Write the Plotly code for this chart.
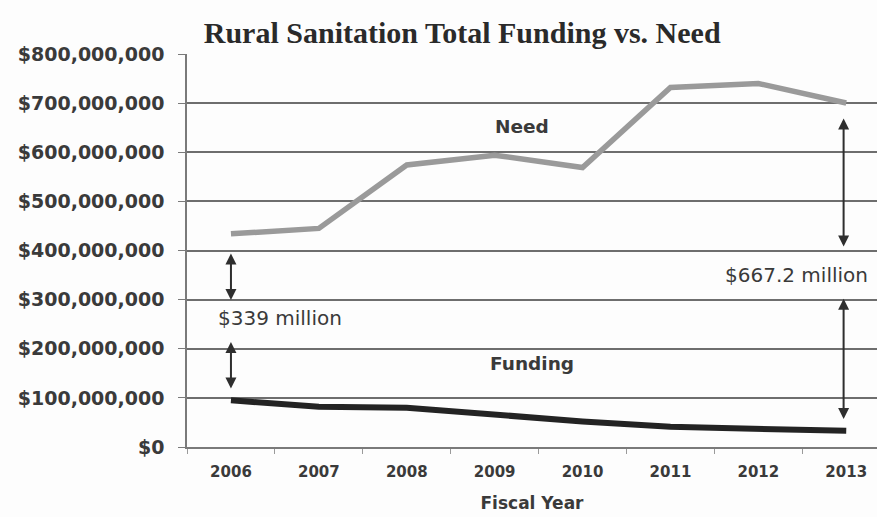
import plotly.graph_objects as go

# Fiscal years and annual totals (US dollars)
years = ["2006", "2007", "2008", "2009", "2010", "2011", "2012", "2013"]
need = [434e6, 445e6, 574e6, 594e6, 569e6, 732e6, 740e6, 700.2e6]
funding = [95e6, 82e6, 80e6, 65e6, 52e6, 41e6, 36e6, 33e6]

# Axis ticks
y_ticks = [0, 100e6, 200e6, 300e6, 400e6, 500e6, 600e6, 700e6, 800e6]
y_tick_text = ["$0", "$100,000,000", "$200,000,000", "$300,000,000", "$400,000,000",
               "$500,000,000", "$600,000,000", "$700,000,000", "$800,000,000"]

# Gaps between need and funding in the first and last year
gap_2006 = need[0] - funding[0]
gap_2013 = need[-1] - funding[-1]

LABEL_FONT = "DejaVu Sans"
INK = "#3a3a3a"

fig = go.Figure()

fig.add_trace(go.Scatter(
    x=years, y=need, mode="lines", name="Need",
    line=dict(color="#9a9a9a", width=5.5),
))
fig.add_trace(go.Scatter(
    x=years, y=funding, mode="lines", name="Funding",
    line=dict(color="#232323", width=6),
))

def double_arrow(x, y0, y1):
    fig.add_annotation(
        x=x, y=y1, ax=x, ay=y0, xref="x", yref="y", axref="x", ayref="y",
        showarrow=True, arrowhead=2, startarrowhead=2, arrowside="end+start",
        arrowsize=1.1, arrowwidth=2, arrowcolor="#2e2e2e", text="",
    )

# 2006 gap arrows and label
double_arrow(0, 397e6, 299e6)
double_arrow(0, 217e6, 119e6)
fig.add_annotation(
    x=-0.17, y=263e6, xref="x", yref="y", xanchor="left", yanchor="middle",
    text=f"${gap_2006 / 1e6:.0f} million", showarrow=False,
    font=dict(family=LABEL_FONT, size=20, color=INK),
)

# 2013 gap arrows and label
double_arrow(6.97, 672e6, 408e6)
double_arrow(6.97, 305e6, 57e6)
fig.add_annotation(
    x=5.6, y=350e6, xref="x", yref="y", xanchor="left", yanchor="middle",
    text=f"${gap_2013 / 1e6:.1f} million", showarrow=False,
    font=dict(family=LABEL_FONT, size=20, color=INK),
)

# Series labels
fig.add_annotation(
    x=3.31, y=652e6, xref="x", yref="y", text="<b>Need</b>", showarrow=False,
    font=dict(family=LABEL_FONT, size=18.5, color=INK),
)
fig.add_annotation(
    x=3.43, y=171e6, xref="x", yref="y", text="<b>Funding</b>", showarrow=False,
    font=dict(family=LABEL_FONT, size=18.5, color=INK),
)

fig.update_layout(
    width=877, height=517,
    margin=dict(l=187, r=0, t=54, b=70),
    paper_bgcolor="#fdfdfd", plot_bgcolor="#fdfdfd",
    showlegend=False,
    title=dict(
        text="<b>Rural Sanitation Total Funding vs. Need</b>",
        x=0.527, xanchor="center", y=0.937, yanchor="middle",
        font=dict(family="Liberation Serif", size=30, color="#2a2a2a"),
    ),
    xaxis=dict(
        type="category", range=[-0.5, 7.35],
        showgrid=False, showline=True, linecolor="#7a7a7a", linewidth=1.5,
        ticks="outside", tickson="boundaries", ticklen=5, tickcolor="#9a9a9a",
        ticklabelstandoff=10,
        tickfont=dict(family=LABEL_FONT, size=15, color=INK, weight="bold"),
        title=dict(text="<b>Fiscal Year</b>", standoff=17,
                   font=dict(family=LABEL_FONT, size=17, color=INK)),
        fixedrange=True,
    ),
    yaxis=dict(
        range=[0, 800e6], tickvals=y_ticks, ticktext=y_tick_text,
        showgrid=True, gridcolor="#6e6e6e", gridwidth=1.5,
        showline=True, linecolor="#7a7a7a", linewidth=1.5,
        ticks="outside", ticklen=7, tickcolor="#7a7a7a",
        ticklabelstandoff=10,
        tickfont=dict(family=LABEL_FONT, size=19, color=INK, weight="bold"),
        zeroline=False, fixedrange=True,
    ),
)

fig.write_html("out.html")
